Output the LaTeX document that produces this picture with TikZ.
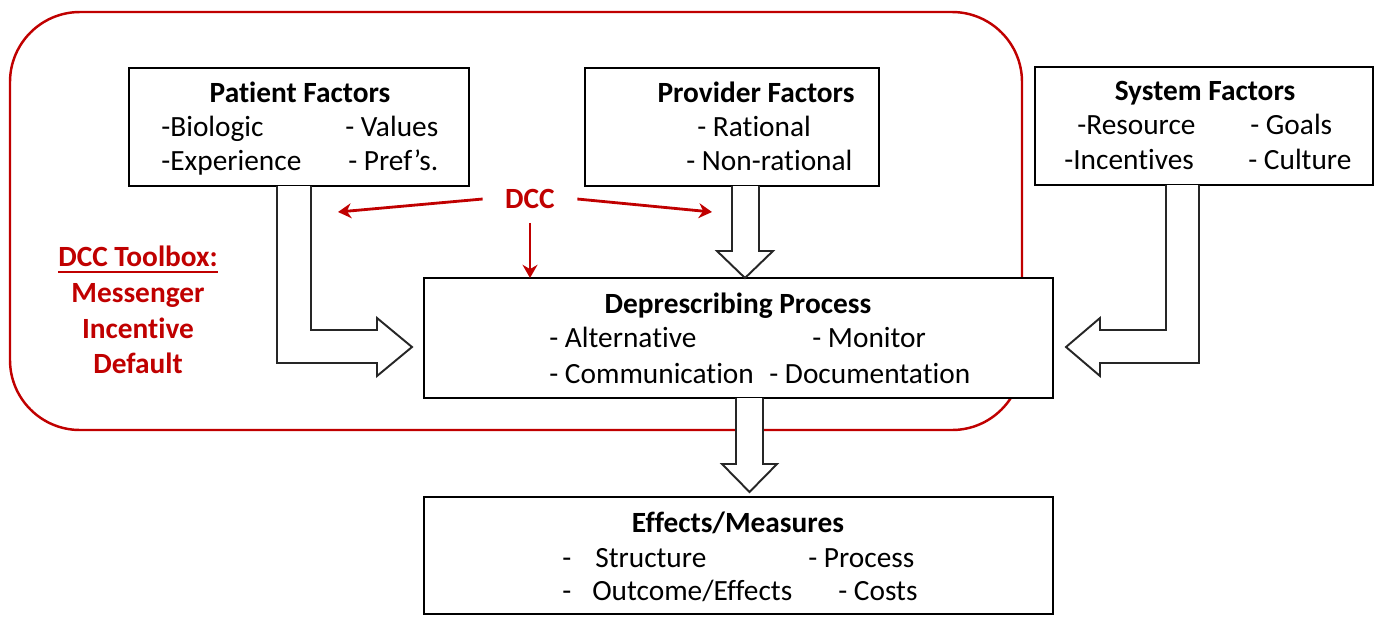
\documentclass[tikz,border=0pt]{standalone}
\usepackage{fontspec}
\setmainfont{Carlito}[Ligatures=NoCommon]
\usetikzlibrary{arrows.meta}
\definecolor{dccred}{RGB}{192,0,0}
\definecolor{boxline}{RGB}{0,0,0}
\definecolor{arrowline}{RGB}{38,38,38}
\newcommand{\px}{0.02cm}
\newcommand{\figfont}{\fontsize{16.7pt}{20pt}\selectfont}
\tikzset{
  factor/.style={
    draw=boxline, fill=white, line width=1.6pt,
    inner sep=0pt, outer sep=0pt
  },
  head/.style={inner sep=0pt, anchor=base, font=\figfont\bfseries},
  item/.style={inner sep=0pt, anchor=base west},
  hollow/.style={draw=arrowline, fill=white, line width=1.1pt, line join=miter},
  dccarrow/.style={-{Stealth[length=7.5pt, width=8.5pt]}, dccred, line width=1.6pt},
  toolbox/.style={inner sep=0pt, anchor=base, font=\figfont\bfseries, text=dccred}
}

\begin{document}
\begin{tikzpicture}[x=\px, y=-\px, font=\figfont]
  \useasboundingbox (0,0) rectangle (1379,616);

  % area where the DCC toolbox applies
  \draw[dccred, line width=1.4pt, rounded corners=1.4cm] (10,12) rectangle (1022,430);

  \node[factor, minimum width=340*\px, minimum height=118*\px] (pat) at (299,127) {};
  \node[factor, minimum width=294*\px, minimum height=118*\px] (prov) at (732,127) {};
  \node[factor, minimum width=338*\px, minimum height=118*\px] (sys) at (1204,126) {};
  \node[factor, minimum width=629*\px, minimum height=120*\px] (proc) at (738.5,338) {};
  \node[factor, minimum width=629*\px, minimum height=117*\px] (eff) at (738.5,555.5) {};

  \node[head] (pat-h) at (300,102) {Patient Factors};
  \node[item] (pat-a) at (161,136) {-Biologic};
  \node[item] (pat-b) at (345,136) {- Values};
  \node[item] (pat-c) at (161,170) {-Experience};
  \node[item] (pat-d) at (348,170) {- Pref’s.};

  \node[head] (prov-h) at (756,102) {Provider Factors};
  \node[item] (prov-a) at (697,136) {- Rational};
  \node[item] (prov-b) at (686,170) {- Non-rational};

  \node[head] (sys-h) at (1205,100) {System Factors};
  \node[item] (sys-a) at (1077,134) {-Resource};
  \node[item] (sys-b) at (1250,134) {- Goals};
  \node[item] (sys-c) at (1064,169) {-Incentives};
  \node[item] (sys-d) at (1248,169) {- Culture};

  \node[head] (proc-h) at (738,313) {Deprescribing Process};
  \node[item] (proc-a) at (549,347) {- Alternative};
  \node[item] (proc-b) at (812,347) {- Monitor};
  \node[item] (proc-c) at (549,383) {- Communication};
  \node[item] (proc-d) at (769,383) {- Documentation};

  \node[head] (eff-h) at (738,532) {Effects/Measures};
  \node[item] (eff-a) at (562,567) {-\hspace{0.48cm}Structure};
  \node[item] (eff-b) at (808,567) {- Process};
  \node[item] (eff-c) at (562,600) {-\hspace{0.42cm}Outcome/Effects};
  \node[item] (eff-d) at (838,600) {- Costs};

  % hollow block arrows
  \draw[hollow] (277,186) -- (277,363) -- (377,363) -- (377,376) -- (412,347)
    -- (377,318) -- (377,330) -- (311,330) -- (311,186);
  \draw[hollow] (1166,185) -- (1166,330) -- (1100,330) -- (1100,318) -- (1066,347)
    -- (1100,376) -- (1100,363) -- (1199,363) -- (1199,185);
  \draw[hollow] (732,186) -- (732,251) -- (717,251) -- (745,278) -- (773,251)
    -- (759,251) -- (759,186);
  \draw[hollow] (736,398) -- (736,464) -- (722,464) -- (749.5,492) -- (777,464)
    -- (763,464) -- (763,398);

  \node[inner sep=0pt, fill=white, minimum width=94*\px, minimum height=47*\px,
    text=dccred, font=\figfont\bfseries] (dcc) at (530,199) {DCC};
  \coordinate (dcc-l) at (338,212);
  \coordinate (dcc-r) at (712,212);
  \draw[dccarrow] (dcc.west) -- (dcc-l);
  \draw[dccarrow] (dcc.east) -- (dcc-r);
  \draw[dccarrow] (dcc.south) -- (dcc.south |- proc.north);

  \node[toolbox] (tb-1) at (138,266) {DCC Toolbox:};
  \node[toolbox] (tb-2) at (138,302) {Messenger};
  \node[toolbox] (tb-3) at (138,338) {Incentive};
  \node[toolbox] (tb-4) at (138,373) {Default};
  \draw[dccred, line width=1pt] ([yshift=-3.4pt]tb-1.base west) -- ([yshift=-3.4pt]tb-1.base east);
\end{tikzpicture}
\end{document}
